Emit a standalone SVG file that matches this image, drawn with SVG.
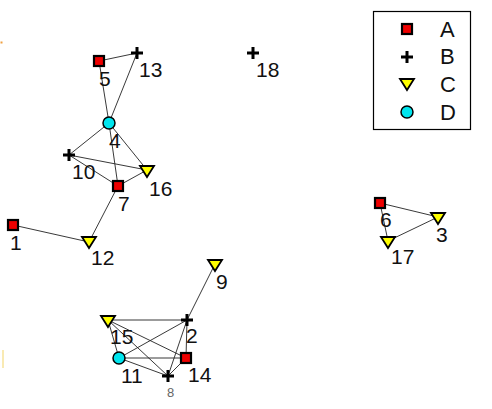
<svg xmlns="http://www.w3.org/2000/svg" width="492" height="409" viewBox="0 0 492 409">
<defs>
<style>
.e{stroke:#222;stroke-width:0.9;fill:none}
.sq{fill:#ee0000;stroke:#000;stroke-width:2.2}
.pl{stroke:#000;stroke-width:3;fill:none}
.tr{fill:#ffff00;stroke:#000;stroke-width:1.8;stroke-linejoin:miter}
.ci{fill:#00e5ee;stroke:#000;stroke-width:1.5}
.lb{font-family:"Liberation Sans",Arial,sans-serif;font-size:21px;fill:#111}
.lg{font-family:"Liberation Sans",Arial,sans-serif;font-size:22px;fill:#111}
</style>
<rect id="msq" x="-5" y="-5" width="10" height="10" class="sq"/>
<path id="mpl" d="M-6,0H6M0,-6V6" class="pl"/>
<path id="mtr" d="M-7,-5H7L0,6Z" class="tr"/>
<circle id="mci" r="6" class="ci"/>
</defs>
<rect width="492" height="409" fill="#fff"/>
<g id="artifacts">
<rect x="0.5" y="41.5" width="2" height="2" fill="#f0a040"/>
<line x1="3" y1="350" x2="3" y2="368" stroke="#f5dc80" stroke-width="1.2"/>
</g>
<g id="connectors">
<line class="e" x1="99" y1="61" x2="137" y2="53"/>
<line class="e" x1="99" y1="61" x2="109" y2="123"/>
<line class="e" x1="137" y1="53" x2="109" y2="123"/>
<line class="e" x1="109" y1="123" x2="69" y2="155"/>
<line class="e" x1="109" y1="123" x2="147" y2="170"/>
<line class="e" x1="109" y1="123" x2="118" y2="186"/>
<line class="e" x1="69" y1="155" x2="147" y2="170"/>
<line class="e" x1="69" y1="155" x2="118" y2="186"/>
<line class="e" x1="118" y1="186" x2="147" y2="170"/>
<line class="e" x1="118" y1="186" x2="89" y2="242"/>
<line class="e" x1="13" y1="225" x2="89" y2="242"/>
<line class="e" x1="215" y1="264" x2="187" y2="320"/>
<line class="e" x1="380" y1="203" x2="438" y2="217"/>
<line class="e" x1="380" y1="203" x2="388" y2="241"/>
<line class="e" x1="388" y1="241" x2="438" y2="217"/>
<line class="e" x1="108" y1="320" x2="187" y2="320" stroke="#555"/>
<line class="e" x1="108" y1="320" x2="119" y2="358"/>
<line class="e" x1="108" y1="320" x2="186" y2="358"/>
<line class="e" x1="108" y1="320" x2="168" y2="376"/>
<line class="e" x1="119" y1="358" x2="187" y2="320"/>
<line class="e" x1="119" y1="358" x2="186" y2="358"/>
<line class="e" x1="119" y1="358" x2="168" y2="376"/>
<line class="e" x1="187" y1="320" x2="186" y2="358" stroke="#555"/>
<line class="e" x1="187" y1="320" x2="168" y2="376"/>
<line class="e" x1="186" y1="358" x2="168" y2="376"/>
</g>
<g id="n5"><use href="#msq" x="99" y="61"/><text class="lb" x="99" y="86">5</text></g>
<g id="n13"><use href="#mpl" x="137" y="53"/><text class="lb" x="139" y="77">13</text></g>
<g id="n4"><use href="#mci" x="109" y="123"/><text class="lb" x="109" y="148">4</text></g>
<g id="n10"><use href="#mpl" x="69" y="155"/><text class="lb" x="72" y="179">10</text></g>
<g id="n16"><use href="#mtr" x="147" y="171"/><text class="lb" x="149" y="196">16</text></g>
<g id="n7"><use href="#msq" x="118" y="186"/><text class="lb" x="118" y="211">7</text></g>
<g id="n1"><use href="#msq" x="13" y="225"/><text class="lb" x="10" y="250">1</text></g>
<g id="n12"><use href="#mtr" x="89" y="242"/><text class="lb" x="91" y="265">12</text></g>
<g id="n9"><use href="#mtr" x="215" y="265"/><text class="lb" x="216" y="289">9</text></g>
<g id="n2"><use href="#mpl" x="187" y="320"/><text class="lb" x="186" y="343">2</text></g>
<g id="n15"><use href="#mtr" x="108" y="321"/><text class="lb" x="110" y="344">15</text></g>
<g id="n11"><use href="#mci" x="119" y="358"/><text class="lb" x="121" y="383">11</text></g>
<g id="n14"><use href="#msq" x="186" y="358"/><text class="lb" x="188" y="382">14</text></g>
<g id="n8"><use href="#mpl" x="168" y="376"/><text x="167" y="397" font-family="Liberation Sans,Arial,sans-serif" font-size="13" fill="#666">8</text></g>
<g id="n18"><use href="#mpl" x="253" y="53"/><text class="lb" x="256" y="77">18</text></g>
<g id="n6"><use href="#msq" x="380" y="203"/><text class="lb" x="380" y="227">6</text></g>
<g id="n3"><use href="#mtr" x="438" y="218"/><text class="lb" x="436" y="242">3</text></g>
<g id="n17"><use href="#mtr" x="388" y="242"/><text class="lb" x="391" y="264">17</text></g>
<g id="legend">
<rect x="373.5" y="11.5" width="97" height="118" fill="#fff" stroke="#000" stroke-width="1.2"/>
<use href="#msq" x="407" y="29"/>
<use href="#mpl" x="407" y="57"/>
<use href="#mtr" x="407" y="84"/>
<use href="#mci" x="407" y="112"/>
<text class="lg" x="440" y="37">A</text>
<text class="lg" x="440" y="64">B</text>
<text class="lg" x="440" y="92">C</text>
<text class="lg" x="440" y="120">D</text>
</g>
</svg>
